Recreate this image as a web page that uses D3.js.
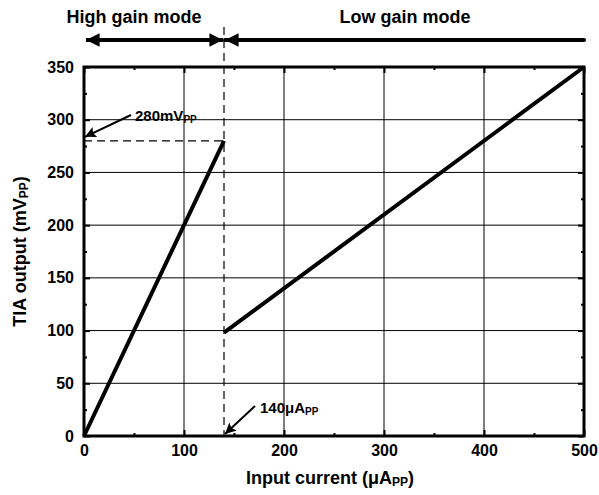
<!DOCTYPE html>
<html lang="en">
<head>
    <meta charset="UTF-8">
    <title>TIA output</title>
    <style>
        body{margin:0;background:#fff;}
        text{font-family:"Liberation Sans",Arial,sans-serif;font-weight:bold;fill:#000;}
    </style>
</head>
<body>
<script src="https://cdn.jsdelivr.net/npm/d3@7"></script>
<script>
    var width=599;
    var height=495;
    // data
    var highGain=[[0,0],[140,280]];
    var lowGain=[[140,98],[500,350]];
    var xTicks=[0,100,200,300,400,500];
    var yTicks=[0,50,100,150,200,250,300,350];
    var xMinor=[50,150,250,350,450];
    var yMinor=[25,75,125,175,225,275,325];
    var switchCurrent=140;
    var switchOutput=280;

    var pLeft=84,pRight=584,pTop=67,pBottom=436;

    var svg=d3.select('body')
            .append('svg')
            .attr('width',width)
            .attr('height',height);

    var defs=svg.append('defs');
    defs.append('marker')
            .attr('id','head')
            .attr('viewBox','0 0 10 10')
            .attr('refX',10).attr('refY',5)
            .attr('markerWidth',5).attr('markerHeight',3.4)
            .attr('markerUnits','strokeWidth')
            .attr('orient','auto-start-reverse')
            .append('path').attr('d','M0,0L10,5L0,10Z').attr('fill','#000');
    defs.append('marker')
            .attr('id','thin')
            .attr('viewBox','0 0 10 10')
            .attr('refX',10).attr('refY',5)
            .attr('markerWidth',6.5).attr('markerHeight',5.5)
            .attr('markerUnits','strokeWidth')
            .attr('orient','auto')
            .append('path').attr('d','M0,0L10,5L0,10L2,5Z').attr('fill','#000');

    var x=d3.scaleLinear().domain([0,500]).range([pLeft,pRight]);
    var y=d3.scaleLinear().domain([0,350]).range([pBottom,pTop]);

    // grid
    svg.selectAll('.vgrid')
            .data(xTicks.slice(1,-1))
            .enter()
            .append('line')
            .attr('x1',function(d){return x(d);})
            .attr('x2',function(d){return x(d);})
            .attr('y1',pTop).attr('y2',pBottom)
            .attr('stroke','#000').attr('stroke-width',1);
    svg.selectAll('.hgrid')
            .data(yTicks.slice(1,-1))
            .enter()
            .append('line')
            .attr('y1',function(d){return y(d);})
            .attr('y2',function(d){return y(d);})
            .attr('x1',pLeft).attr('x2',pRight)
            .attr('stroke','#000').attr('stroke-width',1);

    // axes with inward ticks
    function styleAxis(g){
        g.select('.domain').remove();
        g.selectAll('.tick line').attr('stroke','#000').attr('stroke-width',2);
        g.selectAll('.tick text').attr('font-size','16px').attr('font-family','"Liberation Sans",Arial,sans-serif').attr('font-weight','bold');
    }
    svg.append('g')
            .attr('transform','translate(0,'+pBottom+')')
            .call(d3.axisBottom(x).tickValues(xTicks).tickSize(-6).tickPadding(9))
            .call(styleAxis);
    svg.append('g')
            .attr('transform','translate('+pLeft+',0)')
            .call(d3.axisLeft(y).tickValues(yTicks).tickSize(-6).tickPadding(10))
            .call(styleAxis);
    svg.append('g')
            .attr('transform','translate(0,'+pTop+')')
            .call(d3.axisTop(x).tickValues(xTicks).tickSize(-6).tickFormat(''))
            .call(styleAxis);
    svg.append('g')
            .attr('transform','translate('+pRight+',0)')
            .call(d3.axisRight(y).tickValues(yTicks).tickSize(-6).tickFormat(''))
            .call(styleAxis);
    // minor ticks
    svg.append('g').attr('transform','translate(0,'+pBottom+')')
            .call(d3.axisBottom(x).tickValues(xMinor).tickSize(-3).tickFormat('')).call(styleAxis);
    svg.append('g').attr('transform','translate(0,'+pTop+')')
            .call(d3.axisTop(x).tickValues(xMinor).tickSize(-3).tickFormat('')).call(styleAxis);
    svg.append('g').attr('transform','translate('+pLeft+',0)')
            .call(d3.axisLeft(y).tickValues(yMinor).tickSize(-3).tickFormat('')).call(styleAxis);
    svg.append('g').attr('transform','translate('+pRight+',0)')
            .call(d3.axisRight(y).tickValues(yMinor).tickSize(-3).tickFormat('')).call(styleAxis);

    // frame
    svg.append('rect')
            .attr('x',pLeft).attr('y',pTop)
            .attr('width',pRight-pLeft).attr('height',pBottom-pTop)
            .attr('fill','none').attr('stroke','#000').attr('stroke-width',3);

    // dashed guides
    svg.append('line')
            .attr('x1',x(switchCurrent)).attr('x2',x(switchCurrent))
            .attr('y1',27).attr('y2',pBottom)
            .attr('stroke','#000').attr('stroke-width',1.2)
            .attr('stroke-dasharray','8,5');
    svg.append('line')
            .attr('x1',pLeft).attr('x2',x(switchCurrent))
            .attr('y1',y(switchOutput)).attr('y2',y(switchOutput))
            .attr('stroke','#000').attr('stroke-width',1.2)
            .attr('stroke-dasharray','8,5');

    // data lines
    var line=d3.line()
            .x(function(d){return x(d[0]);})
            .y(function(d){return y(d[1]);});
    [highGain,lowGain].forEach(function(s){
        svg.append('path')
                .attr('d',line(s))
                .attr('fill','none')
                .attr('stroke','#000')
                .attr('stroke-width',4);
    });

    // mode arrows
    var ay=40;
    svg.append('line')
            .attr('x1',x(0)+2).attr('x2',x(switchCurrent)-1)
            .attr('y1',ay).attr('y2',ay)
            .attr('stroke','#000').attr('stroke-width',4)
            .attr('marker-start','url(#head)')
            .attr('marker-end','url(#head)');
    svg.append('line')
            .attr('x1',x(500)).attr('x2',x(switchCurrent)+1)
            .attr('y1',ay).attr('y2',ay)
            .attr('stroke','#000').attr('stroke-width',4)
            .attr('stroke-linecap','round')
            .attr('marker-end','url(#head)');
    svg.append('text')
            .attr('x',134).attr('y',23)
            .attr('text-anchor','middle')
            .attr('font-size','18px')
            .text('High gain mode');
    svg.append('text')
            .attr('x',405).attr('y',23)
            .attr('text-anchor','middle')
            .attr('font-size','18px')
            .text('Low gain mode');

    // annotations
    svg.append('line')
            .attr('x1',131).attr('y1',115)
            .attr('x2',x(0)+1).attr('y2',y(switchOutput)-4)
            .attr('stroke','#000').attr('stroke-width',2)
            .attr('marker-end','url(#thin)');
    var t1=svg.append('text').attr('x',135).attr('y',121).attr('font-size','15px');
    t1.append('tspan').text('280mV');
    t1.append('tspan').attr('font-size','10px').attr('dy',2).text('PP');

    svg.append('line')
            .attr('x1',255).attr('y1',406)
            .attr('x2',x(switchCurrent)+1).attr('y2',pBottom-2)
            .attr('stroke','#000').attr('stroke-width',2)
            .attr('marker-end','url(#thin)');
    var t2=svg.append('text').attr('x',260).attr('y',413).attr('font-size','15px');
    t2.append('tspan').text('140\u03bcA');
    t2.append('tspan').attr('font-size','10px').attr('dy',2).text('PP');

    // axis titles
    var xt=svg.append('text')
            .attr('x',(pLeft+pRight)/2-4).attr('y',484)
            .attr('text-anchor','middle')
            .attr('font-size','18px');
    xt.append('tspan').text('Input current (\u03bcA');
    xt.append('tspan').attr('font-size','12px').attr('dy',2).text('PP');
    xt.append('tspan').attr('dy',-2).text(')');

    var yt=svg.append('text')
            .attr('transform','translate(26,'+((pTop+pBottom)/2)+') rotate(-90)')
            .attr('text-anchor','middle')
            .attr('font-size','18px');
    yt.append('tspan').text('TIA output (mV');
    yt.append('tspan').attr('font-size','12px').attr('dy',2).text('PP');
    yt.append('tspan').attr('dy',-2).text(')');
</script>
</body>
</html>
